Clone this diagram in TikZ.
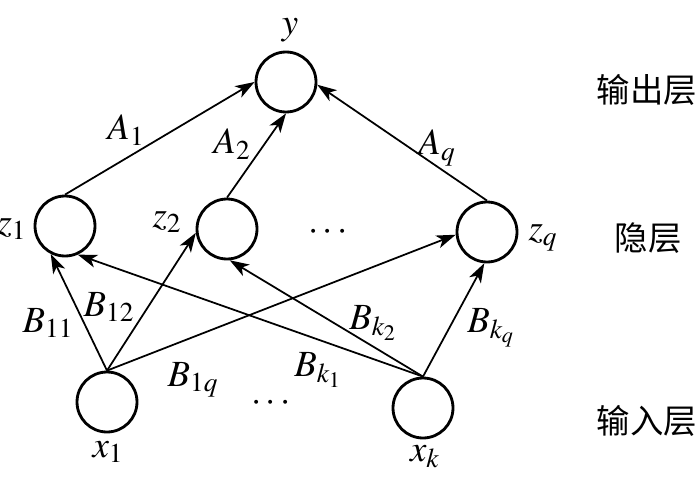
\documentclass[tikz,border=0pt]{standalone}
\usepackage{mathptmx}
\usepackage{fontspec}
\setmainfont{Liberation Serif}
\newfontfamily\cjk{Noto Sans CJK SC}
\usetikzlibrary{arrows.meta,positioning}

\begin{document}
\begin{tikzpicture}[
    x=0.02cm, y=-0.02cm,
    neuron/.style={circle, draw, line width=1.6pt, minimum size=1.2cm, inner sep=0pt},
    link/.style={-{Stealth[length=11pt, width=7.5pt, inset=3pt]}, line width=1pt},
    lbl/.style={font=\fontsize{21}{24}\selectfont, inner sep=0pt},
    layer/.style={font=\fontsize{19}{22}\selectfont\cjk, inner sep=0pt},
]
\useasboundingbox (0,0) rectangle (700,483);

% output layer
\node[neuron] (y) at (286,82) {};
% hidden layer
\node[neuron] (z1) at (65,226) {};
\node[neuron] (z2) at (227,229) {};
\node[neuron] (zq) at (487,232) {};
% input layer
\node[neuron] (x1) at (107,402) {};
\node[neuron] (xk) at (423,408) {};

% node names
\node[lbl] (ly) at (290,30) {$y$};
\node[lbl] (lz1) at (12,229) {$z_1$};
\node[lbl] (lz2) at (167,222) {$z_2$};
\node[lbl] (lzq) at (543,238) {$z_q$};
\node[lbl] (lx1) at (108,452) {$x_1$};
\node[lbl] (lxk) at (425,457) {$x_k$};
\node[lbl] (hdots) at (328,232) {$\cdots$};
\node[lbl] (idots) at (271,403) {$\cdots$};

% hidden -> output
\draw[link] (z1.north) -- (y.180);
\draw[link] (z2.north) -- (y.270);
\draw[link] (zq.north) -- (y.355);

% input -> hidden
\draw[link] (x1.north) -- (z1.243);
\draw[link] (x1.north) -- (z2.187);
\draw[link] (x1.north) -- (zq.185);
\draw[link] (xk.north) -- (z1.294);
\draw[link] (xk.north) -- (z2.275);
\draw[link] (xk.north) -- (zq.265);

% weights
\node[lbl] (a1) at (126,130) {$A_1$};
\node[lbl] (a2) at (232,144) {$A_2$};
\node[lbl] (aq) at (437,148) {$A_q$};
\node[lbl] (b11) at (48,323) {$B_{11}$};
\node[lbl] (b12) at (109,307) {$B_{12}$};
\node[lbl] (b1q) at (193,380) {$B_{1q}$};
\node[lbl] (bk1) at (318,370) {$B_{k_1}$};
\node[lbl] (bk2) at (373,323) {$B_{k_2}$};
\node[lbl] (bkq) at (491,328) {$B_{k_q}$};

% layer names
\node[layer] (outl) at (647,90) {输出层};
\node[layer] (hidl) at (648,238) {隐层};
\node[layer] (inl) at (647,421) {输入层};

\end{tikzpicture}
\end{document}
